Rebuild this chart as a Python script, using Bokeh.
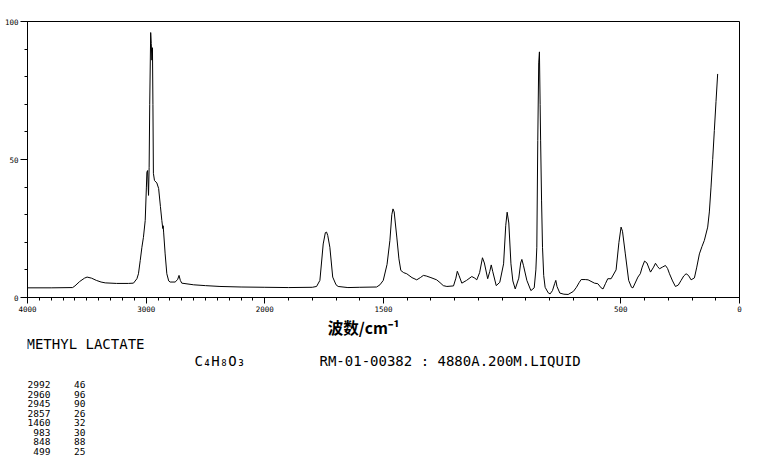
import numpy as np
from bokeh.plotting import figure
from bokeh.layouts import column
from bokeh.models import Range1d, FixedTicker, ColumnDataSource
from bokeh.core.properties import value
from bokeh.embed import file_html
from bokeh.resources import INLINE

# ---------------- data ----------------
wavenumber = [4000, 3800, 3620, 3600, 3560, 3520, 3498, 3460, 3420, 3380, 3345, 3250, 3150, 3107,
              3078, 3065, 3050, 3036, 3023, 3008, 2998, 2994, 2988, 2980, 2975, 2970, 2962, 2957,
              2952, 2947, 2943, 2939, 2930, 2910, 2895, 2880, 2868, 2860, 2857, 2853, 2840, 2826,
              2810, 2798, 2756, 2735, 2723, 2712, 2700, 2600, 2500, 2378, 2200, 2000, 1900, 1800,
              1782, 1768, 1754, 1745, 1740, 1735, 1726, 1714, 1700, 1691, 1650, 1600, 1529, 1515,
              1501, 1485, 1473, 1465, 1460, 1455, 1444, 1435, 1427, 1415, 1402, 1380, 1360, 1345,
              1332, 1320, 1300, 1276, 1262, 1248, 1233, 1205, 1195, 1189, 1182, 1170, 1150, 1128,
              1115, 1107, 1095, 1083, 1075, 1061, 1052, 1046, 1040, 1025, 1010, 994, 985, 979,
              972, 963, 955, 945, 930, 922, 917, 910, 896, 879, 865, 858, 854, 850, 846, 843, 840,
              838, 834, 830, 825, 819, 806, 798, 788, 779, 774, 769, 757, 740, 722, 700, 687, 675,
              667, 650, 638, 611, 597, 583, 575, 565, 555, 541, 520, 508, 499, 493, 481, 467, 455,
              449, 428, 418, 410, 400, 390, 375, 362, 354, 345, 337, 325, 312, 303, 295, 282, 270,
              258, 246, 235, 225, 215, 204, 190, 180, 169, 158, 148, 134, 127, 120, 113, 106, 99, 92]
intensity = [3.5, 3.5, 3.6, 4.2, 5.8, 7.0, 7.4, 7.0, 6.2, 5.6, 5.3, 5.1, 5.1, 5.2,
             6.8, 8.6, 13.4, 18.2, 21.8, 27.9, 40.0, 45.4, 46.0, 37.0, 47.0, 70.0, 96.0, 92.0,
             86.0, 90.5, 70.0, 45.0, 42.4, 41.5, 39.5, 33.0, 27.9, 25.0, 26.0, 23.7, 15.8, 8.6,
             6.0, 5.6, 5.6, 6.5, 8.0, 6.2, 5.2, 4.6, 4.3, 4.0, 3.8, 3.7, 3.6, 3.7,
             4.0, 6.2, 19.4, 23.5, 23.7, 22.5, 18.2, 7.4, 4.6, 4.0, 3.6, 3.7, 3.8, 4.6,
             6.2, 12.0, 20.7, 30.0, 32.1, 31.0, 21.9, 14.0, 9.8, 9.0, 8.6, 7.2, 6.4, 7.2,
             8.0, 7.8, 7.2, 6.4, 5.4, 4.3, 4.0, 4.2, 7.0, 9.5, 8.0, 5.2, 6.2, 7.6,
             7.0, 6.4, 9.0, 14.4, 12.5, 6.8, 9.5, 11.8, 9.5, 4.3, 5.5, 12.2, 26.0, 30.9,
             27.0, 12.2, 6.0, 3.1, 7.0, 12.5, 13.8, 11.5, 6.2, 2.5, 3.5, 10.0, 18.2, 56.9, 85.0, 89.0, 70.0,
             57.0, 35.0, 18.2, 8.0, 3.7, 1.7, 1.3, 2.5, 5.0, 6.2, 4.0, 1.6, 1.2, 1.1, 2.2, 3.7, 5.5,
             6.5, 6.5, 6.4, 5.2, 5.0, 3.5, 3.1, 5.0, 6.8, 6.8, 10.0, 20.0, 25.5, 24.0, 15.8, 6.2, 3.7,
             3.5, 7.4, 8.6, 11.0, 13.2, 12.5, 9.2, 11.0, 12.4, 11.2, 10.4, 11.0, 11.6, 10.5, 8.6, 6.0, 4.0,
             4.5, 6.2, 7.8, 8.6, 8.0, 6.4, 7.1, 11.0, 15.8, 18.5, 20.7, 25.5, 31.0, 40.0, 50.0, 60.5, 71.0, 81.0]

peak_wavenumbers = [2992, 2960, 2945, 2857, 1460, 983, 848, 499]
peak_intensities = [46, 96, 90, 26, 32, 30, 88, 25]

x_tick_values = [4000, 3000, 2000, 1500, 500, 0]
x_minor_values = list(range(0, 4001, 100))
y_tick_values = [0, 50, 100]
y_minor_values = list(range(0, 101, 10))

compound_name = "METHYL LACTATE"
formula = "C\u2084H\u2088O\u2083"
record_info = "RM-01-00382 : 4880A.200M.LIQUID"
x_title = "波数/cm\u207b\u00b9"


# split wavenumber axis: 4000-2000 drawn at half the scale of 2000-0
def axis_pos(w):
    w = np.asarray(w, dtype=float)
    return np.where(w > 2000, 2000 + (w - 2000) / 2.0, w)


FRAME_W, FRAME_H = 712, 276
B_LEFT, B_TOP, B_RIGHT, B_BOTTOM = 27, 21, 20, 17
P1_H = B_TOP + FRAME_H + B_BOTTOM
P2_W, P2_H = 700, 152

p = figure(frame_width=FRAME_W, frame_height=FRAME_H,
           x_range=Range1d(3000, 0), y_range=Range1d(0, 100),
           output_backend="svg", toolbar_location=None,
           min_border_left=B_LEFT, min_border_right=B_RIGHT,
           min_border_top=B_TOP, min_border_bottom=B_BOTTOM,
           background_fill_color="white", border_fill_color="white")
p.grid.visible = False
p.outline_line_color = "black"
p.outline_line_width = 1

p.line(axis_pos(wavenumber), intensity, line_color="black", line_width=1)

# x axis
xt = [int(v) for v in axis_pos(x_tick_values)]
p.xaxis.ticker = FixedTicker(ticks=xt, minor_ticks=[float(v) for v in axis_pos(x_minor_values)])
p.xaxis.major_label_overrides = {int(k): str(t) for k, t in zip(xt, x_tick_values)}
p.xaxis.major_tick_out = 6
p.xaxis.major_tick_in = 0
p.xaxis.minor_tick_out = 3
p.xaxis.minor_tick_in = 0
p.xaxis.major_label_standoff = 2
p.xaxis.major_label_text_font = "DejaVu Sans Mono"
p.xaxis.major_label_text_font_size = "7.5px"
p.xaxis.major_label_text_color = "black"
p.xaxis.axis_line_color = "black"

# y axis
p.yaxis.ticker = FixedTicker(ticks=y_tick_values, minor_ticks=y_minor_values)
p.yaxis.major_tick_out = 7
p.yaxis.major_tick_in = 0
p.yaxis.minor_tick_out = 3
p.yaxis.minor_tick_in = 0
p.yaxis.major_label_standoff = 2
p.yaxis.major_label_text_font = "DejaVu Sans Mono"
p.yaxis.major_label_text_font_size = "7.5px"
p.yaxis.major_label_text_color = "black"
p.yaxis.axis_line_color = "black"

# ---------------- text block below the chart (pixel-coordinate canvas) ----------------
p2 = figure(title=None, frame_width=P2_W, frame_height=P2_H,
            x_range=Range1d(0, P2_W), y_range=Range1d(P2_H, 0),
            output_backend="svg", toolbar_location=None,
            min_border=0, background_fill_color="white", border_fill_color="white")
p2.axis.visible = False
p2.grid.visible = False
p2.outline_line_color = None

X_OFF = B_LEFT  # the text canvas starts under the chart frame
Y_OFF = P1_H


def px(page_x):
    return page_x - X_OFF


def py(page_y):
    return page_y - Y_OFF


p2.text(x=[px(363)], y=[py(326)], text=[x_title], text_align="center",
        text_baseline="alphabetic", text_font=value("Noto Sans CJK SC"),
        text_font_size="15.5px", text_font_style="bold", text_color="black")
p2.text(x=[px(26), px(194), px(319)], y=[py(343), py(360), py(360)],
        text=[compound_name, formula, record_info], text_align="left",
        text_baseline="alphabetic", text_font=value("DejaVu Sans Mono"),
        text_font_size="14px", text_color="black")

row0, row_step = 384.0, 9.57
rows_y = [py(row0 + i * row_step) for i in range(len(peak_wavenumbers))]
table = ColumnDataSource(dict(
    y=rows_y,
    wn=[str(w) for w in peak_wavenumbers],
    it=[str(v) for v in peak_intensities],
))
p2.text(x=px(50), y="y", text="wn", source=table, text_align="right",
        text_baseline="alphabetic", text_font=value("DejaVu Sans Mono"),
        text_font_size="9.5px", text_color="black")
p2.text(x=px(85), y="y", text="it", source=table, text_align="right",
        text_baseline="alphabetic", text_font=value("DejaVu Sans Mono"),
        text_font_size="9.5px", text_color="black")

layout = column(p, p2, spacing=0)
open("out.html", "w").write(file_html(layout, INLINE))
